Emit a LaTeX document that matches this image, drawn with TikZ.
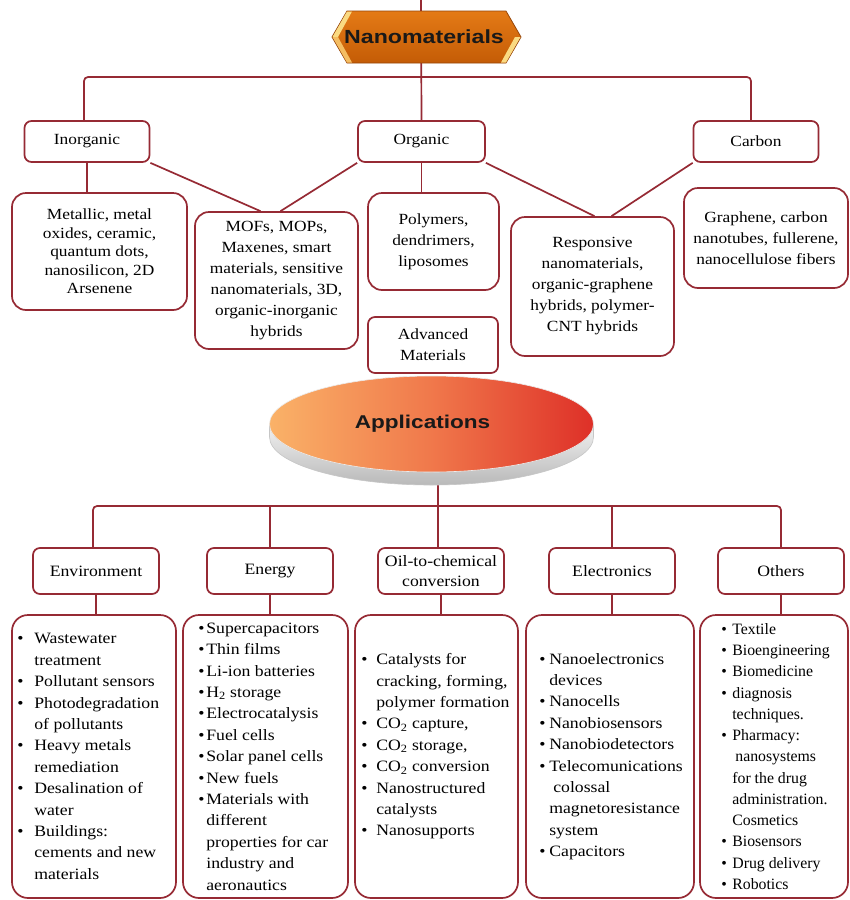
\documentclass[tikz,border=0pt]{standalone}
\usepackage{fontspec}
\setmainfont{Liberation Serif}[FakeStretch=1.12]
\newfontfamily\nsfont{Liberation Serif}
\newfontfamily\hdfont{Liberation Sans}[FakeStretch=1.22]
\usetikzlibrary{shapes.geometric,shapes.symbols,backgrounds}
\definecolor{lc}{RGB}{150,42,52}
\definecolor{banT}{RGB}{228,122,22}
\definecolor{banB}{RGB}{196,92,6}
\definecolor{banE}{RGB}{150,70,10}
\definecolor{gold}{RGB}{250,218,130}
\definecolor{appL}{RGB}{250,178,104}
\definecolor{appM}{RGB}{240,120,75}
\definecolor{appR}{RGB}{222,48,40}
\newcommand{\bul}[1]{\makebox[#1][l]{\textbullet}}
\newcommand{\ind}[1]{\hspace*{#1}}
\newcommand{\lowtwo}{\textsubscript{2}}
\begin{document}
\begin{tikzpicture}[x=1pt,y=-1pt,
  con/.style={draw=lc,line width=1.7pt},
  cbox/.style={draw=lc,line width=1.7pt,fill=white,rounded corners=7pt,inner sep=0pt,align=center,font=\fontsize{15.5}{18.5}\selectfont},
  tbox/.style={draw=lc,line width=1.7pt,fill=white,rounded corners=14pt,inner sep=0pt,align=center,font=\fontsize{15.5}{21}\selectfont},
  lbox/.style={draw=lc,line width=1.7pt,fill=white,rounded corners=16pt,inner sep=0pt},
  ltxt/.style={anchor=west,inner sep=0pt,align=left,font=\fontsize{15.8}{21.4}\selectfont},
  bcat/.style={draw=lc,line width=1.7pt,fill=white,rounded corners=7pt,inner sep=0pt,align=center,minimum width=126pt,minimum height=46pt,font=\fontsize{15.8}{20}\selectfont}
]
\useasboundingbox (0,0) rectangle (850,900);

% ---------- top level ----------
\node[cbox,minimum width=125pt,minimum height=41pt] (inorg) at (87,141.5) {Inorganic};
\node[cbox,minimum width=127pt,minimum height=41pt] (org) at (421.5,141.5) {Organic};
\node[cbox,minimum width=125pt,minimum height=41pt] (carbon) at (756,141.5) {Carbon};

\node[tbox,minimum width=175pt,minimum height=117pt,font=\fontsize{15.5}{18.5}\selectfont] (metal) at (99.5,251.5)
  {Metallic, metal\\oxides, ceramic,\\quantum dots,\\nanosilicon, 2D\\Arsenene};
\node[tbox,minimum width=163pt,minimum height=137pt] (mofs) at (276.5,280.5)
  {MOFs, MOPs,\\Maxenes, smart\\materials, sensitive\\nanomaterials, 3D,\\organic-inorganic\\hybrids};
\node[tbox,minimum width=131pt,minimum height=97pt] (poly) at (433.5,241.5)
  {Polymers,\\dendrimers,\\liposomes};
\node[tbox,minimum width=163pt,minimum height=139pt] (resp) at (592.5,286.5)
  {Responsive\\nanomaterials,\\organic-graphene\\hybrids, polymer-\\CNT hybrids};
\node[tbox,minimum width=164pt,minimum height=100pt] (graph) at (766,238)
  {Graphene, carbon\\nanotubes, fullerene,\\nanocellulose fibers};
\node[cbox,minimum width=130pt,minimum height=56pt,font=\fontsize{15.5}{21}\selectfont] (adv) at (433,345)
  {Advanced\\Materials};

% ---------- banner ----------
\node[signal, signal to=west and east, signal pointer angle=120,
      minimum width=189pt, minimum height=52pt, inner sep=0pt,
      top color=banT, bottom color=banB, draw=banE, line width=0.8pt] (nano) at (426.5,37) {};
\fill[gold] (332.5,37) -- (347,11.5) -- (352,11.5) -- (338,37) -- cycle;
\fill[gold!70!banT] (332.5,37) -- (338,37) -- (352,62.5) -- (347,62.5) -- cycle;
\fill[gold] (520.5,37) -- (506,62.5) -- (501,62.5) -- (515,37) -- cycle;
\node[font=\hdfont\bfseries\fontsize{19}{21}\selectfont, text=black!90] (nanotxt) at (424,37) {Nanomaterials};

% ---------- applications disc ----------
\path[top color=gray!10, bottom color=gray!55, draw=gray!45, line width=0.6pt]
  (269.5,424) -- (269.5,437) arc[start angle=180,end angle=0,x radius=162,y radius=48]
  -- (593.5,424) arc[start angle=0,end angle=180,x radius=162,y radius=48] -- cycle;
\node[ellipse, minimum width=324pt, minimum height=96pt, inner sep=0pt,
      left color=appL, right color=appR, middle color=appM,
      draw=white!85!gray, line width=0.6pt] (app) at (431.5,424) {};
\node[font=\hdfont\bfseries\fontsize{18.5}{20}\selectfont, text=black!90] (apptxt) at (422.5,424) {Applications};
\coordinate (appbot) at (438,470);

% ---------- bottom categories ----------
\node[bcat] (envc) at (96,571) {Environment};
\node[bcat] (enec) at (270,571) {Energy};
\node[bcat] (oilc) at (441,571) {Oil-to-chemical\\conversion};
\node[bcat] (elec) at (612,571) {Electronics};
\node[bcat] (othc) at (781,571) {Others};

\node[lbox,minimum width=164pt,minimum height=283pt] (envl) at (94,756.5) {};
\node[lbox,minimum width=165pt,minimum height=283pt] (enel) at (265.5,756.5) {};
\node[lbox,minimum width=163pt,minimum height=283pt] (oill) at (436.5,756.5) {};
\node[lbox,minimum width=168pt,minimum height=283pt] (elel) at (610,756.5) {};
\node[lbox,minimum width=148pt,minimum height=283pt] (othl) at (774,756.5) {};

\node[ltxt] (envt) at ([xshift=6pt]envl.west) {%
\bul{17pt}Wastewater\\ \ind{17pt}treatment\\ \bul{17pt}Pollutant sensors\\ \bul{17pt}Photodegradation\\ \ind{17pt}of pollutants\\
\bul{17pt}Heavy metals\\ \ind{17pt}remediation\\ \bul{17pt}Desalination of\\ \ind{17pt}water\\ \bul{17pt}Buildings:\\
\ind{17pt}cements and new\\ \ind{17pt}materials};

\node[ltxt] (enet) at ([xshift=16pt]enel.west) {%
\bul{8pt}Supercapacitors\\ \bul{8pt}Thin films\\ \bul{8pt}Li-ion batteries\\ \bul{8pt}H\lowtwo{} storage\\ \bul{8pt}Electrocatalysis\\
\bul{8pt}Fuel cells\\ \bul{8pt}Solar panel cells\\ \bul{8pt}New fuels\\ \bul{8pt}Materials with\\ \ind{8pt}different\\
\ind{8pt}properties for car\\ \ind{8pt}industry and\\ \ind{8pt}aeronautics};

\node[ltxt] (oilt) at ([xshift=7pt,yshift=10pt]oill.west) {%
\bul{15pt}Catalysts for\\ \ind{15pt}cracking, forming,\\ \ind{15pt}polymer formation\\ \bul{15pt}CO\lowtwo{} capture,\\
\bul{15pt}CO\lowtwo{} storage,\\ \bul{15pt}CO\lowtwo{} conversion\\ \bul{15pt}Nanostructured\\ \ind{15pt}catalysts\\ \bul{15pt}Nanosupports};

\node[ltxt] (elet) at ([xshift=14pt]elel.west) {%
\bul{10pt}Nanoelectronics\\ \ind{10pt}devices\\ \bul{10pt}Nanocells\\ \bul{10pt}Nanobiosensors\\ \bul{10pt}Nanobiodetectors\\
\bul{10pt}Telecomunications\\ \ind{14pt}colossal\\ \ind{10pt}magnetoresistance\\ \ind{10pt}system\\ \bul{10pt}Capacitors};

\node[ltxt,font=\nsfont\fontsize{15.8}{21.25}\selectfont] (otht) at ([xshift=22pt]othl.west) {%
\bul{11pt}Textile\\ \bul{11pt}Bioengineering\\ \bul{11pt}Biomedicine\\ \bul{11pt}diagnosis\\ \ind{11pt}techniques.\\
\bul{11pt}Pharmacy:\\ \ind{14pt}nanosystems\\ \ind{11pt}for the drug\\ \ind{11pt}administration.\\ \ind{11pt}Cosmetics\\
\bul{11pt}Biosensors\\ \bul{11pt}Drug delivery\\ \bul{11pt}Robotics};

% ---------- connectors (behind boxes) ----------
\coordinate (ntop) at (421,0);
\coordinate (tb) at (421,77);
\coordinate (ab) at (438,506);
\begin{scope}[on background layer]
  \fill[white] (0,0) rectangle (850,900);
  \draw[con] (ntop) -- (org.north);
  \draw[con,rounded corners=4pt] ([xshift=-3pt]inorg.north) |- (tb) -| ([xshift=-5pt]carbon.north);
  \draw[con] (inorg.south) -- (inorg.south |- metal.north);
  \draw[con] (inorg.south east) -- ([xshift=-16pt]mofs.north);
  \draw[con] (org.south west) -- ([xshift=4pt]mofs.north);
  \draw[con] (org.south) -- (org.south |- poly.north);
  \draw[con] (org.south east) -- ([xshift=2pt]resp.north);
  \draw[con] (carbon.south west) -- ([xshift=19pt]resp.north);
  \draw[con] (appbot) -- (appbot |- oilc.north);
  \draw[con,rounded corners=4pt] ([xshift=-3pt]envc.north) |- (ab) -| (othc.north);
  \draw[con] (enec.north) -- (enec.north |- ab);
  \draw[con] (elec.north) -- (elec.north |- ab);
  \draw[con] (envc.south) -- (envc.south |- envl.north);
  \draw[con] (enec.south) -- (enec.south |- enel.north);
  \draw[con] (oilc.south) -- (oilc.south |- oill.north);
  \draw[con] (elec.south) -- (elec.south |- elel.north);
  \draw[con] (othc.south) -- (othc.south |- othl.north);
\end{scope}
\end{tikzpicture}
\end{document}
